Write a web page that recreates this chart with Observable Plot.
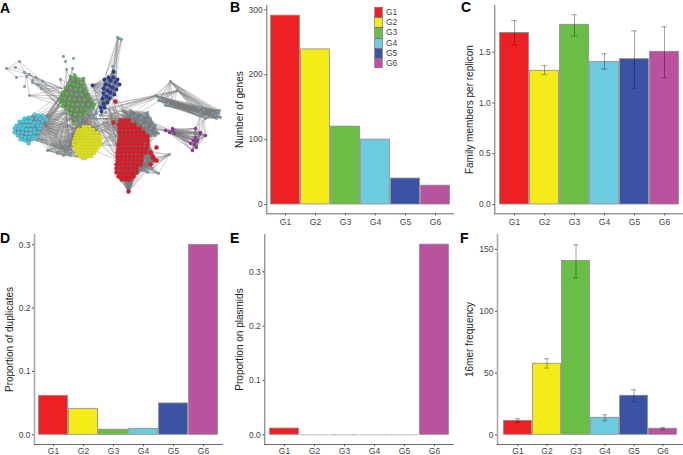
<!DOCTYPE html>
<html><head><meta charset="utf-8">
<script src="https://cdn.jsdelivr.net/npm/d3@7"></script>
<script src="https://cdn.jsdelivr.net/npm/@observablehq/plot@0.6"></script>
<style>
html,body{margin:0;padding:0;background:#fff}
#page{position:relative;width:683px;height:455px;overflow:hidden;font-family:"Liberation Sans",Arial,sans-serif}
#page svg{position:absolute;overflow:visible;background:transparent}
#page g[aria-label="y-axis label"]{font-size:10px;fill:#222}
.tag{position:absolute;font-weight:bold;font-size:14px;line-height:14px;color:#000}
#legend{position:absolute;left:374px;top:7px}
#legend div{display:flex;align-items:center;height:10.2px;font-size:8.5px;color:#444}
#legend i{display:block;width:9.4px;height:10.2px;box-sizing:border-box;margin-right:2.5px;border-left:.6px solid #999;border-right:.6px solid #999;border-top:.6px solid #777}
</style></head><body><div id="page"></div>
<script>
const groups = ["G1","G2","G3","G4","G5","G6"];
const colors = ["#ED2024","#F4EB19","#6ABD45","#6CCBDE","#3A53A4","#B9529F"];
const geneCount = [291,239,120,100,40,29];
const familyMembers = [1.69,1.317,1.77,1.405,1.431,1.504];
const familyLow = [1.573,1.278,1.66,1.333,1.146,1.248];
const familyHigh = [1.81,1.366,1.869,1.484,1.71,1.75];
const duplicates = [0.0616,0.041,0.008,0.0095,0.0495,0.3];
const plasmids = [0.0115,0,0,0,0,0.35];
const kmerFreq = [11.3,57.5,140.8,13.8,31.6,4.9];
const kmerLow = [10.3,54,127,11.3,26.7,4];
const kmerHigh = [13,61.5,153.8,16.2,36.4,5.7];

const yellowRows = [[126,[83,86,89]],[129,[78,81,84,87,90,93]],[132,[76,79,82,85,88,91,94,97]],[135,[75,78,81,84,87,90,93,96,99]],[138,[74,77,80,83,86,89,92,95,98,100]],[141,[73,76,79,82,85,88,91,94,97,100]],[144,[73,76,79,82,85,88,91,94,97,100]],[147,[74,77,80,83,86,89,92,95,98]],[150,[75,78,81,84,87,90,93,96]],[153,[76,79,82,85,88,91,94]],[156,[79,82,85,88,91]],[158,[82,85]]];
const redRows = [[120,[120,124,128]],[124,[118,122,126,130,134]],[128,[119,123,127,131,135,139]],[132,[119,123,127,131,135,139,143]],[136,[120,124,128,132,136,140,144,147]],[140,[119,123,127,131,135,139,143,147]],[144,[118,122,126,130,134,138,142,147]],[148,[118,122,126,130,134,138,142,146]],[152,[117,121,125,129,133,137,141,145,150]],[156,[117,121,125,129,133,137,141,152]],[160,[117,121,125,129,133,137,141,156]],[164,[116,120,124,128,132,136,140,150]],[168,[116,120,124,128,132,136]],[172,[116,120,124,128,132,136]],[176,[118,122,126,130,133]],[179,[121,125,129]],[191,[128]]];
const redExtra = [[115,101],[113,122],[156,147],[153,158]];
const greenNodes = [[75,76],[72,79],[78,79],[81,82],[69,83],[73,84],[77,85],[84,86],[65,87],[70,88],[75,89],[80,89],[86,91],[62,92],[66,93],[71,93],[76,94],[81,94],[88,96],[60,97],[64,98],[69,98],[74,99],[79,99],[84,99],[91,100],[63,103],[68,103],[72,104],[77,104],[82,104],[88,104],[67,108],[71,109],[76,109],[81,109],[86,109],[92,107],[70,113],[75,114],[80,114],[85,113],[74,119],[79,118],[73,123],[62,106],[59,101],[70,76],[94,104],[83,78]];
const cyanNodes = [[34,114],[38,115],[42,115],[24,118],[28,117],[31,118],[36,118],[40,118],[44,118],[19,121],[22,121],[26,121],[30,121],[34,122],[38,122],[42,121],[46,119],[16,125],[20,125],[24,125],[28,125],[32,125],[37,125],[41,125],[14,128],[18,128],[22,128],[26,129],[30,129],[34,129],[39,128],[14,132],[18,132],[22,132],[26,133],[30,133],[34,132],[38,132],[17,135],[21,136],[25,137],[29,137],[33,136],[37,136],[20,139],[24,140],[28,141],[32,139],[28,143]];
const blueNodes = [[113,71],[108,77],[113,77],[117,79],[104,79],[110,80],[115,82],[119,84],[92,85],[105,84],[109,85],[103,88],[112,87],[116,89],[107,90],[103,93],[110,92],[114,94],[106,96],[102,98],[109,98],[103,103],[107,102],[100,107],[104,107],[101,111]];
const purpleLeft = [[165,130],[169,132],[172,130],[174,133],[172,128]];
const purpleRight = [[195,128],[200,132],[205,135],[195,137],[200,133],[193,140],[197,140],[190,143],[194,144],[196,147],[192,150],[196,141]];
const upperLeft = [[6,68],[19,61],[15,67],[24,72],[26,76],[29,74],[32,80],[42,81],[24,86],[29,95],[16,77],[35,77],[32,82],[37,84],[41,88]];
const upperLeftLinks = [[[6,68],[19,61]],[[6,68],[15,67]],[[6,68],[16,77]],[[6,68],[29,74]],[[19,61],[24,72]],[[19,61],[42,81]],[[15,67],[29,74]],[[16,77],[29,74]],[[24,72],[42,81]],[[29,95],[26,76]],[[24,86],[26,76]],[[24,72],[32,80]],[[29,74],[37,84]],[[26,76],[41,88]],[[35,77],[41,88]],[[32,82],[41,88]]];
const topTuft = [[117,37],[119,38],[121,39],[112,66],[115,72]];
const topCluster = [[63,56],[65,61],[73,58],[66,69],[72,68],[60,79],[74,74]];
const lowerLeft = [[47,150],[57,153],[63,155],[67,152],[69,148],[68,140],[65,145],[70,155],[52,144],[58,146]];
const hubLeft = [[155,95],[170,81],[177,90],[158,100],[165,105],[160,97],[163,100],[168,103],[172,106]];
const hubRight = [[200,112],[203,110],[198,115],[205,118],[217,111],[220,117],[216,118],[212,113],[198,108],[218,113],[215,115],[219,110]];
const redFringe = [[122,110],[128,113],[132,116],[138,113],[145,115],[148,120],[150,128],[146,125],[140,118],[155,130],[158,133],[152,135],[155,125],[125,115],[130,110],[135,115],[140,122],[143,125],[147,130],[152,125],[150,132],[148,137],[155,135],[142,116],[150,118],[147,112]];
const redLowerFringe = [[143,170],[148,168],[158,173],[147,172],[169,154],[140,165],[144,160],[152,168]];
const centerGrey = [[100,115],[105,112],[90,113],[85,118],[95,118],[90,108],[96,112],[100,104],[93,115]];
const overlayGrey = [[37,120],[33,127],[35,117],[41,123],[38,134],[107,87],[106,93],[111,84],[88,110],[80,120]];
const bundles = [
  [[[29,95],[42,81],[37,84],[41,88],[32,82],[35,77],[29,74]],[[60,100],[65,95],[58,105],[62,88]]],
  [[[66,69],[72,68],[74,74],[60,79]],[[72,85],[66,92],[62,98]]],
  [[[45,115],[42,122],[38,130],[30,138],[25,120],[35,140],[44,119],[40,126],[36,134]],[[62,100],[68,108],[72,118],[75,135],[72,150],[60,105],[65,150],[76,128],[70,125],[62,92],[66,112],[74,142]]],
  [[[66,104],[70,110],[75,113],[80,112],[85,110],[90,108],[94,106],[72,118],[78,116],[84,115],[90,113]],[[76,128],[80,127],[85,125],[90,126],[95,129],[73,138],[100,136],[68,150],[78,131],[88,128],[98,132],[74,145]]],
  [lowerLeft,[[75,130],[74,145],[44,122],[80,157],[66,112],[38,138],[72,136],[76,152]]],
  [[[100,100],[104,90],[108,82],[112,96],[103,105]],[[85,95],[90,105],[95,112],[75,85],[120,125],[130,120],[118,135],[112,70],[88,100],[92,118]]],
  [[[100,112],[105,118],[96,125],[108,108],[102,122],[110,115]],[[120,125],[119,140],[130,118],[118,155],[140,115],[125,130],[118,132],[118,148]]],
  [[[70,140],[100,130],[75,118],[95,118],[100,145],[85,112]],[[118,128],[118,145],[125,118],[118,160],[135,120],[118,136]]],
  [hubLeft,hubRight],
  [[[155,95],[177,90]],[[100,110],[115,103],[120,108],[108,115],[125,120],[170,81]]],
  [purpleLeft,purpleRight],
  [[[200,115],[204,118]],[[195,128],[193,140],[197,146],[205,135]]],
  [[[128,191]],[[117,176],[121,178],[125,178],[129,178],[133,176],[119,172],[135,172]]],
  [[[118,38],[117,37],[121,39]],[[105,75],[110,80],[113,72],[115,80]]],
  [redFringe,[[125,125],[135,130],[143,135],[147,145],[130,140],[122,122]]],
  [redLowerFringe,[[135,160],[130,150],[145,150],[140,165],[137,170]]],
  [[[115,120],[118,124],[112,112]],[[175,132],[165,130]]],
  [[[112,108],[120,105]],[[155,96],[170,130]]]
];
// Groups in which every node is joined to every other
const cliques = [greenNodes, cyanNodes, blueNodes, purpleRight, hubRight, hubLeft, lowerLeft, redFringe, redLowerFringe];

const rows = r => r.flatMap(([y, xs]) => xs.map(x => [x, y]));
const pairs = a => a.flatMap((s, i) => a.slice(i + 1).map(t => [s, t]));
const dots = (data, fill, r = 1.5) => Plot.dot(data, {x: d => d[0], y: d => d[1], r, fill, stroke: "#000", strokeOpacity: 0.18, strokeWidth: 0.3});
const edges = [
  ...bundles.flatMap(([a, b]) => a.flatMap(s => b.map(t => [s, t]))),
  ...upperLeftLinks, ...cliques.flatMap(pairs), ...pairs(rows(redRows))
];
const page = document.getElementById("page");
const place = (el, l, t) => { el.style.left = l + "px"; el.style.top = t + "px"; page.appendChild(el); };

// Panel A
place(Plot.plot({
  width: 228, height: 225, margin: 0,
  x: {domain: [0, 228], range: [0, 228], axis: null},
  y: {domain: [0, 225], range: [0, 225], axis: null},
  marks: [
    Plot.link(edges, {x1: d => d[0][0], y1: d => d[0][1], x2: d => d[1][0], y2: d => d[1][1], stroke: "#7a7a7a", strokeWidth: 0.5, strokeOpacity: 0.7}),
    dots([...upperLeft, ...topTuft, ...topCluster, ...lowerLeft, ...hubLeft, ...hubRight, ...redFringe, ...redLowerFringe, ...centerGrey], "#7F9BAA", 1.4),
    dots(rows(yellowRows), "#DFE01F", 1.8),
    dots(greenNodes, "#58B947", 1.8),
    dots(cyanNodes, "#4FC3DA", 2.1),
    dots(blueNodes, "#2A3D99", 1.9),
    dots(overlayGrey, "#7F9BAA", 1.3),
    dots([...rows(redRows), ...redExtra], "#D5202A", 2.2),
    dots([...purpleLeft, ...purpleRight], "#93379B", 1.7)
  ]
}), 0, 0);

function panel({left, top, w, h, axisX, axisTop, axisRight, axisBottom, y0, yAt, yAtV, barL, barR, ticks, fmt, values, low, high, label, labelOffset, leftAxis, bottomAxis, xPad}) {
  const table = groups.map((g, i) => ({g, v: values[i], c: colors[i], lo: low && low[i], hi: high && high[i]}));
  const marks = [
    Plot.barY(table, {x: "g", y: "v", fill: "c", stroke: "#8c8c8c", strokeWidth: 0.8, insetLeft: 0.6, insetRight: 0.6}),
    Plot.tickY(table.filter(d => d.v === 0), {x: "g", y: "v", stroke: "#aaa", strokeWidth: 0.9, insetLeft: 0.6, insetRight: 0.6}),
    Plot.frame({anchor: "left", stroke: leftAxis[0], strokeWidth: leftAxis[1]}),
    Plot.frame({anchor: "bottom", stroke: bottomAxis[0], strokeWidth: bottomAxis[1]}),
    Plot.axisY({ticks, tickFormat: fmt, tickSize: 2, tickPadding: 2, fontSize: 8.5, stroke: "#555", color: "#444", label, labelAnchor: "center", labelArrow: "none", labelOffset}),
    Plot.axisX({tickSize: 2, tickPadding: xPad, fontSize: 8.5, stroke: "#555", color: "#444", label: null})
  ];
  if (low) marks.splice(1, 0,
    Plot.ruleX(table, {x: "g", y1: "lo", y2: "hi", stroke: "#000", strokeOpacity: 0.5, strokeWidth: 0.7}),
    Plot.tickY(table, {x: "g", y: "lo", stroke: "#000", strokeOpacity: 0.5, strokeWidth: 0.7, insetLeft: 12, insetRight: 12}),
    Plot.tickY(table, {x: "g", y: "hi", stroke: "#000", strokeOpacity: 0.5, strokeWidth: 0.7, insetLeft: 12, insetRight: 12}));
  const svg = Plot.plot({
    width: w, height: h,
    marginLeft: axisX - left, marginTop: axisTop - top, marginRight: left + w - axisRight, marginBottom: top + h - axisBottom,
    style: {fontFamily: '"Liberation Sans",Arial,sans-serif', fontSize: "10px", background: "transparent", overflow: "visible"},
    x: {type: "band", domain: groups, range: [barL - left, barR - left], padding: 0},
    y: {domain: [0, yAtV], range: [y0 - top, yAt - top]},
    marks
  });
  place(svg, left, top);
}

panel({left: 225, top: 0, w: 230, h: 225, axisX: 266.3, axisTop: 5, axisRight: 452.7, axisBottom: 213.3, y0: 204, yAt: 9.3, yAtV: 300, barL: 270, barR: 450, ticks: [0,100,200,300], fmt: "d", values: geneCount, label: "Number of genes", labelOffset: 31, leftAxis: ["#444", 0.8], bottomAxis: ["#999", 1.4], xPad: 3});
panel({left: 455, top: 0, w: 228, h: 225, axisX: 494.3, axisTop: 5, axisRight: 683, axisBottom: 213.3, y0: 204, yAt: 51.7, yAtV: 1.5, barL: 497.7, barR: 680, ticks: [0,0.5,1,1.5], fmt: ".1f", values: familyMembers, low: familyLow, high: familyHigh, label: "Family members per replicon", labelOffset: 29, leftAxis: ["#444", 0.8], bottomAxis: ["#999", 1.4], xPad: 3});
panel({left: 0, top: 225, w: 230, h: 230, axisX: 34, axisTop: 234, axisRight: 222, axisBottom: 444, y0: 434.3, yAt: 244.3, yAtV: 0.3, barL: 37.7, barR: 219, ticks: [0,0.1,0.2,0.3], fmt: ".1f", values: duplicates, label: "Proportion of duplicates", labelOffset: 29, leftAxis: ["#aaa", 1.6], bottomAxis: ["#444", 0.8], xPad: 1});
panel({left: 225, top: 225, w: 230, h: 230, axisX: 264.3, axisTop: 234, axisRight: 452.7, axisBottom: 444, y0: 434.3, yAt: 271.3, yAtV: 0.3, barL: 268.3, barR: 449.3, ticks: [0,0.1,0.2,0.3], fmt: ".1f", values: plasmids, label: "Proportion on plasmids", labelOffset: 29, leftAxis: ["#444", 0.8], bottomAxis: ["#444", 0.8], xPad: 1});
panel({left: 455, top: 225, w: 228, h: 230, axisX: 497, axisTop: 234, axisRight: 683, axisBottom: 444, y0: 434.3, yAt: 249, yAtV: 150, barL: 500.3, barR: 680, ticks: [0,50,100,150], fmt: "d", values: kmerFreq, low: kmerLow, high: kmerHigh, label: "16mer frequency", labelOffset: 32, leftAxis: ["#aaa", 1.6], bottomAxis: ["#444", 0.8], xPad: 1});

// Panel letters
[["A",0,1],["B",230,0],["C",461,0],["D",0,231],["E",230,231],["F",460,231]].forEach(([t, l, tp]) => {
  const d = document.createElement("div"); d.className = "tag"; d.textContent = t; place(d, l, tp);
});
// Legend of panel B
const legend = document.createElement("div"); legend.id = "legend";
groups.forEach((g, i) => {
  const row = document.createElement("div");
  const sw = document.createElement("i"); sw.style.background = colors[i];
  row.append(sw, g); legend.appendChild(row);
});
page.appendChild(legend);
</script></body></html>
